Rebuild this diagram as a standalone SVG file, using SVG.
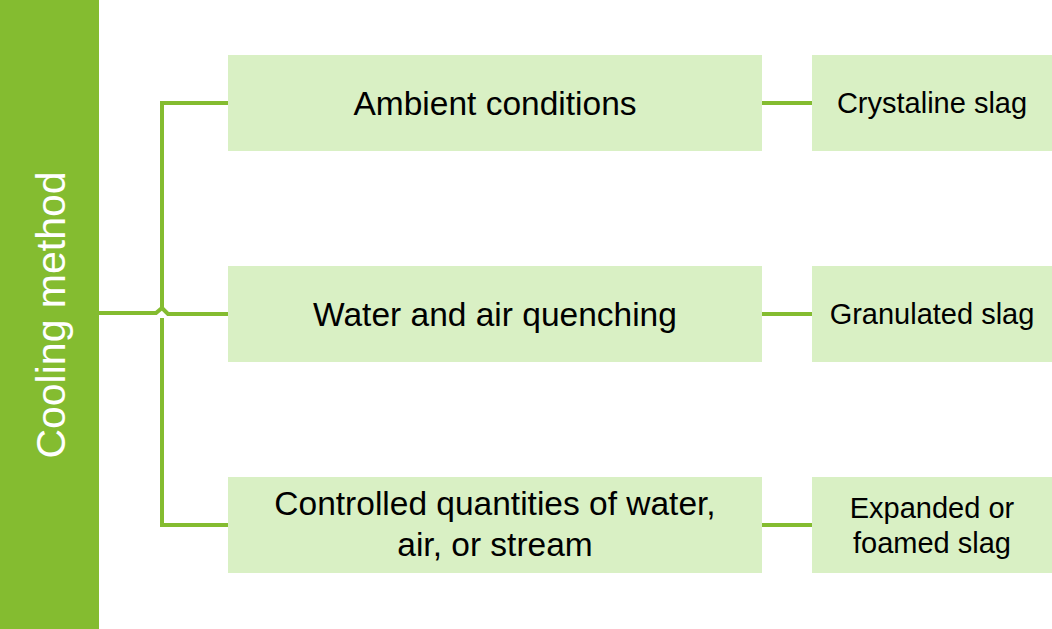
<svg xmlns="http://www.w3.org/2000/svg" width="1052" height="629" viewBox="0 0 1052 629">
<style>
.box{fill:#D9F0C4}
.t1{font-family:"Liberation Sans",Arial,sans-serif;font-size:33.5px;fill:#000;text-anchor:middle}
.t2{font-family:"Liberation Sans",Arial,sans-serif;font-size:29px;fill:#000;text-anchor:middle}
.ln{stroke:#84BC30;stroke-width:4;fill:none}
</style>
<rect width="1052" height="629" fill="#fff"/>
<g id="cooling-method">
<rect x="0" y="0" width="99" height="629" fill="#84BC30"/>
<text transform="translate(65,315) rotate(-90)" font-family="'Liberation Sans',Arial,sans-serif" font-size="41" fill="#fff" text-anchor="middle">Cooling method</text>
</g>
<g id="connectors">
<path class="ln" d="M229,103 H162 V310 M162,318 V525 H229"/>
<path class="ln" d="M99,313 H156 L162,308 L168,314 H229"/>
<path class="ln" d="M762,103 H812 M762,314 H812 M762,525 H812"/>
</g>
<g id="ambient">
<rect class="box" x="228" y="55" width="534" height="96"/>
<text class="t1" x="495" y="115">Ambient conditions</text>
</g>
<g id="water-air">
<rect class="box" x="228" y="266" width="534" height="96"/>
<text class="t1" x="495" y="326">Water and air quenching</text>
</g>
<g id="controlled">
<rect class="box" x="228" y="477" width="534" height="96"/>
<text class="t1" x="495" y="515">Controlled quantities of water,</text>
<text class="t1" x="495" y="556">air, or stream</text>
</g>
<g id="crystaline">
<rect class="box" x="812" y="55" width="240" height="96"/>
<text class="t2" x="932" y="113">Crystaline slag</text>
</g>
<g id="granulated">
<rect class="box" x="812" y="266" width="240" height="96"/>
<text class="t2" x="932" y="324">Granulated slag</text>
</g>
<g id="expanded">
<rect class="box" x="812" y="477" width="240" height="96"/>
<text class="t2" x="932" y="518">Expanded or</text>
<text class="t2" x="932" y="553">foamed slag</text>
</g>
</svg>
